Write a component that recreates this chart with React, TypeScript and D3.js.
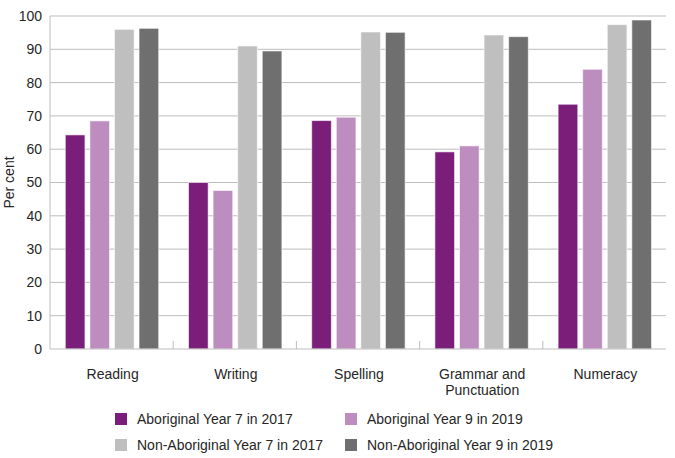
import React from "react";
import * as d3 from "d3";

const categories = ["Reading", "Writing", "Spelling", "Grammar and Punctuation", "Numeracy"];
const categoryLines = [["Reading"], ["Writing"], ["Spelling"], ["Grammar and", "Punctuation"], ["Numeracy"]];
const seriesNames = [
  "Aboriginal Year 7 in 2017",
  "Aboriginal Year 9 in 2019",
  "Non-Aboriginal Year 7 in 2017",
  "Non-Aboriginal Year 9 in 2019",
];
const aboriginal2017 = [64.3, 50.0, 68.6, 59.2, 73.5];
const aboriginal2019 = [68.5, 47.6, 69.6, 61.0, 84.0];
const nonAboriginal2017 = [96.0, 91.0, 95.2, 94.3, 97.4];
const nonAboriginal2019 = [96.3, 89.5, 95.1, 93.8, 98.8];
const seriesColors = ["#7a1e7a", "#bd8dbf", "#bfbfbf", "#706f70"];
const yTicks = [0, 10, 20, 30, 40, 50, 60, 70, 80, 90, 100];

const W = 675;
const H = 458;
const left = 50;
const right = 666;
const top = 16;
const bottom = 349;

export default function App() {
  const series = [aboriginal2017, aboriginal2019, nonAboriginal2017, nonAboriginal2019];
  const x0 = d3.scaleBand<string>().domain(categories).range([left, right]).padding(0);
  const x1 = d3
    .scaleBand<string>()
    .domain(seriesNames)
    .range([15.3, 108.7])
    .paddingInner(0.2)
    .paddingOuter(0);
  const y = d3.scaleLinear().domain([0, 100]).range([bottom, top]);
  const font = "'Liberation Sans', Arial, sans-serif";
  const textColor = "#262626";
  const fs = 14;

  const legendPos = [
    { x: 115, y: 413 },
    { x: 345, y: 413 },
    { x: 115, y: 439 },
    { x: 345, y: 439 },
  ];

  return (
    <svg
      width={W}
      height={H}
      style={{ position: "absolute", left: 0, top: 0, background: "#fff" }}
      fontFamily={font}
    >
      {yTicks.map((t) => (
        <g key={t}>
          {t > 0 && (
            <line x1={left} x2={right} y1={y(t)} y2={y(t)} stroke="#bdbdbd" strokeWidth={1} />
          )}
          <text x={42} y={y(t)} dy="0.35em" textAnchor="end" fontSize={fs} fill={textColor}>
            {t}
          </text>
        </g>
      ))}
      {categories.map((c, ci) => (
        <g key={c} transform={`translate(${x0(c)},0)`}>
          {series.map((s, si) => (
            <rect
              key={si}
              x={x1(seriesNames[si])}
              y={y(s[ci])}
              width={x1.bandwidth()}
              height={bottom - y(s[ci])}
              fill={seriesColors[si]}
              stroke="#ffffff"
              strokeOpacity={0.6}
              strokeWidth={1}
            />
          ))}
        </g>
      ))}
      <line x1={left} x2={left} y1={top} y2={bottom} stroke="#bdbdbd" strokeWidth={1} />
      <line x1={left} x2={right} y1={bottom} y2={bottom} stroke="#bdbdbd" strokeWidth={1} />
      {categories.slice(1).map((c) => (
        <line
          key={c}
          x1={x0(c)}
          x2={x0(c)}
          y1={bottom - 8}
          y2={bottom}
          stroke="#bdbdbd"
          strokeWidth={1}
        />
      ))}
      {categories.map((c, ci) => (
        <text
          key={c}
          x={(x0(c) as number) + x0.bandwidth() / 2 + 1}
          y={379}
          textAnchor="middle"
          fontSize={fs}
          fill={textColor}
        >
          {categoryLines[ci].map((l, li) => (
            <tspan key={li} x={(x0(c) as number) + x0.bandwidth() / 2 + 1} dy={li === 0 ? 0 : 16}>
              {l}
            </tspan>
          ))}
        </text>
      ))}
      <text
        transform={`translate(14,${(top + bottom) / 2}) rotate(-90)`}
        textAnchor="middle"
        fontSize={fs}
        fill={textColor}
      >
        Per cent
      </text>
      {seriesNames.map((n, i) => (
        <g key={n}>
          <rect x={legendPos[i].x} y={legendPos[i].y} width={12} height={12} fill={seriesColors[i]} />
          <text x={legendPos[i].x + 22} y={legendPos[i].y + 6} dy="0.35em" fontSize={fs} fill={textColor}>
            {n}
          </text>
        </g>
      ))}
    </svg>
  );
}
